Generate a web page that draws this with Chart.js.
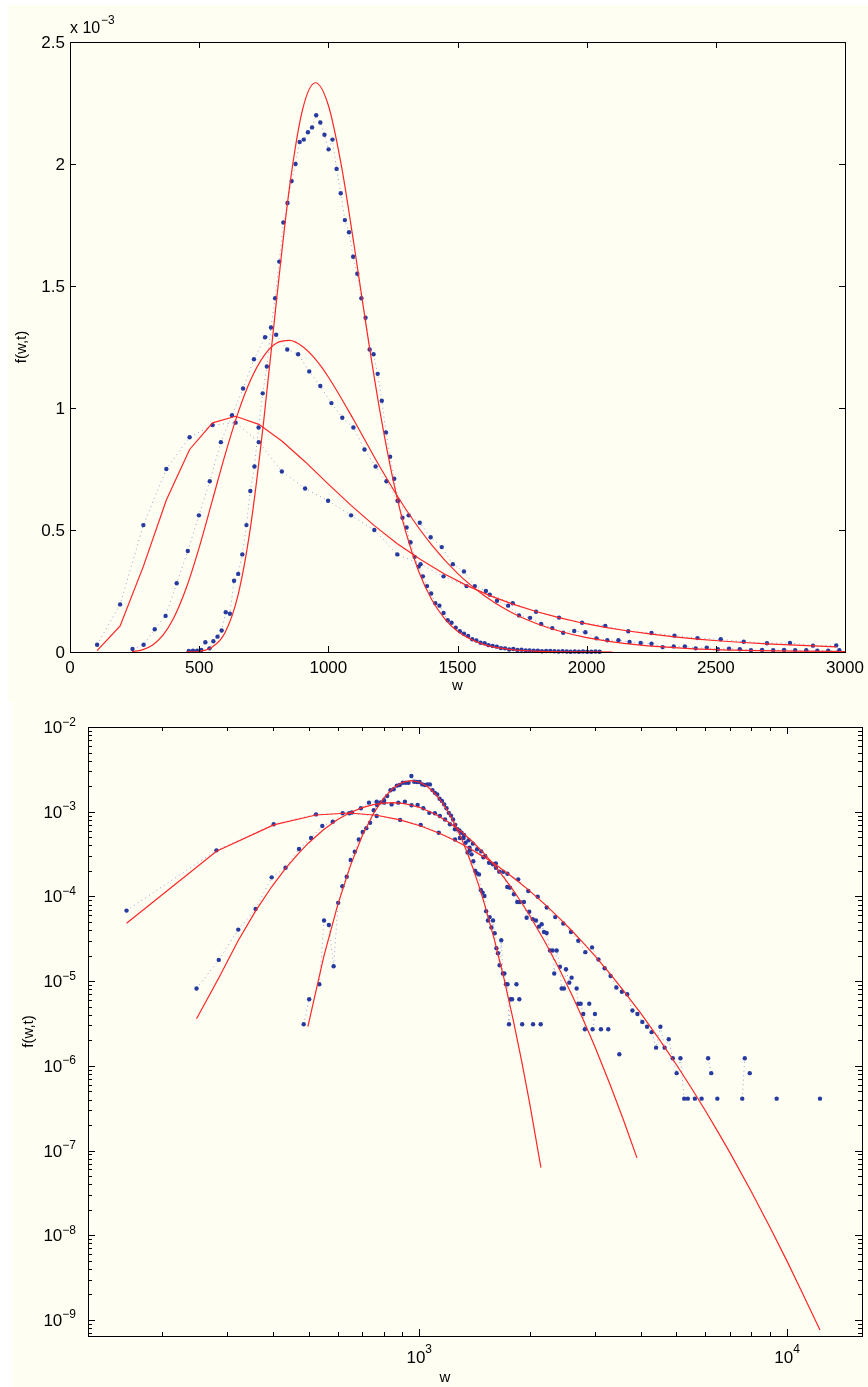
<!DOCTYPE html>
<html>
<head>
<meta charset="utf-8">
<script src="https://cdn.jsdelivr.net/npm/chart.js@4.4.1/dist/chart.umd.min.js"></script>
<style>
  html, body { margin: 0; padding: 0; background: #fff; }
  body { width: 868px; height: 1387px; position: relative; overflow: hidden; }
  .panel { position: absolute; background: #fffef2; }
  #topPanel { left: 8px; top: 5px; width: 860px; height: 697px; }
  #botPanel { left: 12px; top: 702px; width: 856px; height: 685px; }
  canvas { position: absolute; left: 0; }
  #linChart { top: 0; }
  #logChart { top: 700px; }
</style>
</head>
<body>
<div class="panel" id="topPanel"></div>
<div class="panel" id="botPanel"></div>
<canvas id="linChart" width="868" height="700"></canvas>
<canvas id="logChart" width="868" height="687"></canvas>
<script>
// ---- linear panel, f in units of 1e-3 ----
const linA_w = [460,476,492,508,524,540,555,571,587,603,619,635,651,667,683,698,714,730,746,762,778,794,810,826,842,858,873,889,905,921,937,953,969,985,1001,1016,1032,1048,1064,1080,1096,1112,1128,1144,1160,1175,1191,1207,1223,1239,1255,1271,1287,1303,1318,1334,1350,1366,1382,1398,1414,1430,1446,1462,1477,1493,1509,1525,1541,1557,1573,1589,1605,1620,1636,1652,1668,1684,1700,1716,1732,1748,1764,1779,1795,1811,1827,1843,1859,1875,1891,1907,1923,1938,1954,1970,1986,2002,2018,2034,2050];
const linA_f = [0.004,0.005,0.005,0.008,0.040,0.015,0.044,0.063,0.088,0.163,0.157,0.292,0.320,0.400,0.52,0.66,0.76,0.92,1.06,1.17,1.33,1.45,1.60,1.76,1.84,1.93,2.00,2.09,2.10,2.13,2.15,2.20,2.17,2.12,2.06,2.10,1.98,1.88,1.77,1.72,1.62,1.55,1.45,1.37,1.24,1.22,1.14,1.03,0.90,0.80,0.71,0.62,0.55,0.51,0.45,0.39,0.35,0.31,0.27,0.24,0.20,0.19,0.16,0.13,0.12,0.10,0.085,0.075,0.066,0.052,0.047,0.038,0.036,0.028,0.025,0.022,0.016,0.015,0.010,0.012,0.008,0.009,0.006,0.006,0.005,0.005,0.003,0.004,0.004,0.003,0.002,0.003,0.002,0.001,0.002,0.001,0.002,0.001,0.001,0.002,0.001];
const linA_fitW = [450,500,550,600,650,700,750,800,850,900,950,1000,1050,1100,1150,1200,1250,1300,1350,1400,1450,1500,1600,1700,1800,1900,2000,2100];
const linA_fit = [0.0003,0.0032,0.0195,0.079,0.231,0.521,0.948,1.447,1.907,2.222,2.333,2.241,1.996,1.665,1.312,0.985,0.709,0.491,0.330,0.215,0.137,0.085,0.031,0.011,0.0035,0.0011,0.0004,0.0001];

const linB_w = [242,285,328,370,413,456,499,541,584,627,670,712,755,798,841,883,926,969,1012,1054,1097,1140,1183,1225,1268,1311,1354,1396,1439,1482,1525,1567,1610,1653,1696,1738,1781,1824,1867,1909,1952,1995,2038,2080,2123,2166,2209,2251,2294,2337,2380,2422,2465,2508,2551,2593,2636,2679,2722,2764,2807,2850,2893,2935,2978];
const linB_f = [0.012,0.030,0.093,0.148,0.282,0.414,0.56,0.70,0.86,0.97,1.08,1.20,1.29,1.30,1.24,1.22,1.15,1.09,1.02,0.96,0.92,0.83,0.76,0.70,0.62,0.56,0.53,0.47,0.43,0.36,0.33,0.27,0.25,0.21,0.19,0.15,0.14,0.115,0.098,0.079,0.086,0.081,0.056,0.048,0.048,0.041,0.037,0.034,0.020,0.023,0.023,0.015,0.018,0.011,0.014,0.011,0.007,0.008,0.007,0.008,0.007,0.007,0.005,0.005,0.007];
const linB_fitW = [240,280,320,360,400,450,500,550,600,650,700,750,800,850,900,950,1000,1100,1200,1300,1400,1500,1600,1700,1800,1900,2000,2200,2400,2600,2800,3000];
const linB_fit = [0.002,0.009,0.029,0.069,0.136,0.262,0.428,0.617,0.807,0.979,1.117,1.213,1.266,1.277,1.252,1.200,1.127,0.948,0.758,0.585,0.439,0.322,0.234,0.167,0.119,0.084,0.059,0.029,0.014,0.007,0.0034,0.0017];

const linC_w = [105,194,284,373,463,552,641,731,820,910,999,1088,1178,1267,1357,1446,1535,1625,1714,1804,1893,1982,2072,2161,2251,2340,2429,2519,2608,2698,2787,2876,2966];
const linC_f = [0.03,0.195,0.52,0.75,0.88,0.93,0.94,0.86,0.74,0.67,0.62,0.56,0.50,0.40,0.36,0.31,0.27,0.235,0.20,0.165,0.141,0.120,0.107,0.085,0.078,0.067,0.057,0.052,0.042,0.036,0.037,0.026,0.027];
const linC_fit = [0.006,0.107,0.351,0.623,0.830,0.939,0.966,0.933,0.865,0.780,0.689,0.601,0.518,0.444,0.379,0.322,0.273,0.231,0.196,0.166,0.141,0.119,0.101,0.086,0.073,0.062,0.053,0.045,0.039,0.033,0.029,0.025,0.021];

const linXTicks = [0, 500, 1000, 1500, 2000, 2500, 3000];
const linYTicks = [0, 0.5, 1, 1.5, 2, 2.5];

// ---- log panel ----
const logA_w = [485,502,535,551,568,585,602,618,635,651,668,685,702,718,735,752,768,785,802,818,835,852,869,885,902,919,935,952,969,986,1002,1019,1036,1052,1069,1086,1103,1119,1136,1153,1169,1186,1203,1220,1236,1253,1270,1286,1303,1320,1337,1353,1370,1387,1403,1420,1437,1454,1470,1487,1504,1520,1537,1554,1571,1587,1604,1621,1637,1654,1671,1688,1704,1721,1738,1754,1771,1788,1838,1871,1905,2039,2139];
const logA_f = [3.1e-6,6.1e-6,9.2e-6,5.2e-5,4.6e-5,1.5e-5,8.4e-5,1.32e-4,1.71e-4,2.69e-4,3.37e-4,4.7e-4,5.75e-4,6.4e-4,7.4e-4,1.04e-3,1.2e-3,1.29e-3,1.37e-3,1.53e-3,1.79e-3,1.84e-3,2.03e-3,2.07e-3,2.2e-3,2.2e-3,2.2e-3,2.64e-3,2.26e-3,2.24e-3,2.24e-3,2.1e-3,2.07e-3,2.1e-3,2.1e-3,1.8e-3,1.67e-3,1.6e-3,1.42e-3,1.34e-3,1.22e-3,1.1e-3,9.7e-4,9.0e-4,8.1e-4,7.0e-4,6.2e-4,6.0e-4,5.65e-4,4.9e-4,4.3e-4,3.3e-4,3.76e-4,3.14e-4,2.6e-4,2.0e-4,1.87e-4,1.82e-4,1.19e-4,1.11e-4,1.01e-4,6.7e-5,5.2e-5,5.7e-5,4.3e-5,5.2e-5,3.67e-5,2.45e-5,2.13e-5,1.54e-5,3.04e-5,1.23e-5,1.23e-5,9.2e-6,9.2e-6,3.1e-6,6.1e-6,6.1e-6,9.2e-6,6.1e-6,3.1e-6,3.1e-6,3.1e-6];
const logA_fitW = [498,550,600,650,700,750,800,850,900,950,1000,1050,1100,1150,1200,1250,1300,1350,1400,1450,1500,1600,1700,1800,1900,2000,2142];
const logA_fit = [2.9e-6,1.95e-5,7.89e-5,2.31e-4,5.21e-4,9.48e-4,1.447e-3,1.907e-3,2.222e-3,2.333e-3,2.241e-3,1.996e-3,1.665e-3,1.312e-3,9.85e-4,7.09e-4,4.91e-4,3.3e-4,2.15e-4,1.37e-4,8.5e-5,3.11e-5,1.07e-5,3.52e-6,1.12e-6,3.46e-7,6.3e-8];

const logB_w = [248,285,322,359,397,433,471,508,545,582,619,656,694,730,766,803,841,877,914,953,990,1026,1065,1103,1138,1175,1212,1250,1290,1324,1362,1399,1436,1474,1511,1548,1585,1616,1650,1692,1735,1765,1809,1847,1878,1926,1959,1991,2034,2077,2115,2152,2183,2220,2267,2305,2328,2364,2413,2439,2474,2506,2558,2596,2679,2706,2747,2792,2821,2899,2960,3004,3119,3265,3500];
const logB_f = [8.2e-6,1.78e-5,4.06e-5,7.1e-5,1.68e-4,2.18e-4,3.63e-4,4.9e-4,6.8e-4,7.6e-4,9.6e-4,9.8e-4,1.1e-3,1.28e-3,1.31e-3,1.28e-3,1.22e-3,1.28e-3,1.31e-3,1.19e-3,1.2e-3,1.1e-3,9.7e-4,9.6e-4,8.9e-4,8.1e-4,7.1e-4,6.2e-4,4.9e-4,5.3e-4,4.6e-4,4.2e-4,3.6e-4,3.4e-4,3.0e-4,2.5e-4,2.4e-4,2.18e-4,1.96e-4,1.95e-4,1.29e-4,1.27e-4,1.06e-4,8.6e-5,8.6e-5,8.6e-5,5.6e-5,6.6e-5,5.4e-5,5.2e-5,4.4e-5,4.7e-5,3.8e-5,3.7e-5,2.3e-5,2.3e-5,1.23e-5,2.3e-5,1.48e-5,8.2e-6,8.2e-6,1.38e-5,9.6e-6,1.1e-5,8.2e-6,5.4e-6,5.4e-6,4.1e-6,2.7e-6,5.4e-6,2.7e-6,4.1e-6,2.7e-6,2.7e-6,1.37e-6];
const logB_fitW = [248,285,322,359,397,433,471,500,550,600,650,700,750,800,850,900,950,1000,1100,1200,1300,1400,1500,1600,1700,1800,1900,2000,2200,2400,2600,2800,3000,3300,3600,3908];
const logB_fit = [3.6e-6,1.09e-5,3.02e-5,6.74e-5,1.3e-4,2.14e-4,3.27e-4,4.28e-4,6.17e-4,8.07e-4,9.79e-4,1.117e-3,1.213e-3,1.266e-3,1.277e-3,1.252e-3,1.2e-3,1.127e-3,9.48e-4,7.58e-4,5.85e-4,4.39e-4,3.22e-4,2.34e-4,1.67e-4,1.19e-4,8.37e-5,5.88e-5,2.88e-5,1.41e-5,6.9e-6,3.41e-6,1.7e-6,6.07e-7,2.23e-7,8.2e-8];

const logC_w = [160,281,402,524,645,766,887,1009,1130,1251,1373,1494,1615,1737,1858,1979,2100,2222,2343,2464,2585,2707,2828,2950,3071,3192,3313,3435,3556,3677,3799,3920,4041,4163,4284,4405,4526,4647,4768,4889,5010,5131,5253,5374,5616,5858,6101,6222,6464,7555,7676,7918,9372,12290];
const logC_f = [6.8e-5,3.5e-4,7.1e-4,9.3e-4,9.6e-4,8.9e-4,8.0e-4,7.0e-4,5.65e-4,4.7e-4,3.5e-4,2.9e-4,2.45e-4,1.85e-4,1.59e-4,1.16e-4,9.9e-5,7.4e-5,5.7e-5,4.8e-5,3.8e-5,3.0e-5,2.2e-5,2.5e-5,1.8e-5,1.42e-5,1.15e-5,8.4e-6,7.5e-6,7.0e-6,4.5e-6,4.1e-6,3.3e-6,2.9e-6,2.5e-6,1.64e-6,2.9e-6,1.64e-6,2.06e-6,1.23e-6,8.2e-7,1.23e-6,4.1e-7,4.1e-7,4.1e-7,4.1e-7,1.23e-6,8.2e-7,4.1e-7,4.1e-7,1.23e-6,8.2e-7,4.1e-7,4.1e-7];
const logC_fitW = [160,281,402,524,645,766,887,1009,1130,1251,1373,1494,1615,1737,1858,2000,2200,2400,2600,2800,3000,3300,3600,4000,4500,5000,5500,6000,6500,7000,8000,9000,10000,11000,12290];
const logC_fit = [4.82e-5,3.41e-4,7.0e-4,9.15e-4,9.65e-4,9.09e-4,8.02e-4,6.79e-4,5.61e-4,4.57e-4,3.68e-4,2.95e-4,2.36e-4,1.88e-4,1.5e-4,1.154e-4,8.0e-5,5.59e-5,3.93e-5,2.79e-5,2.0e-5,1.224e-5,7.64e-6,4.18e-6,2.04e-6,1.037e-6,5.44e-7,2.95e-7,1.64e-7,9.4e-8,3.27e-8,1.23e-8,4.95e-9,2.1e-9,7.6e-10];

// bin widths of the log-panel histograms; empty bins break the dotted line
const logBinA = 16.7, logBinB = 37.3, logBinC = 121.3;

const logXRange = [125.7, 15990];
const logYRange = [6.47e-10, 1e-2];
const logXDecades = [1000, 10000];
const logYExponents = [-9, -8, -7, -6, -5, -4, -3, -2];
const minorSteps = [2, 3, 4, 5, 6, 7, 8, 9];

const FONT = '"Liberation Sans", Arial, Helvetica, sans-serif';
const dotFill = 'rgb(38,58,160)';
const dotLine = 'rgba(80,100,200,0.6)';
const fitRed = 'rgb(255,38,38)';

const pts = (ws, fs) => ws.map((w, i) => ({ x: w, y: fs[i] }));

function observed(ws, fs, bin) {
  const ds = {
    data: pts(ws, fs), showLine: true,
    borderColor: dotLine, borderWidth: 1, borderDash: [1, 3.5],
    pointRadius: 2.2, pointBackgroundColor: dotFill, pointBorderWidth: 0,
    order: 2, clip: false
  };
  if (bin) {
    ds.segment = {
      borderColor: c => (c.p1.parsed.x - c.p0.parsed.x > 1.5 * bin ? 'rgba(0,0,0,0)' : undefined)
    };
  }
  return ds;
}

function fitted(ws, fs, smooth) {
  return {
    data: pts(ws, fs), showLine: true,
    borderColor: fitRed, borderWidth: 1.2, pointRadius: 0,
    cubicInterpolationMode: smooth ? 'monotone' : 'default', tension: 0,
    order: 1, clip: false
  };
}

// box, inward ticks on all four sides, and labels
function frame(xTicks, yTicks, drawLabels) {
  return {
    id: 'frame',
    afterDraw(chart) {
      const { ctx, chartArea: a } = chart;
      const sx = chart.scales.x, sy = chart.scales.y;
      ctx.save();
      ctx.strokeStyle = '#000';
      ctx.lineWidth = 1;
      ctx.beginPath();
      xTicks.forEach(t => {
        const px = Math.round(sx.getPixelForValue(t.v)) + 0.5;
        ctx.moveTo(px, a.bottom); ctx.lineTo(px, a.bottom - t.len);
        ctx.moveTo(px, a.top); ctx.lineTo(px, a.top + t.len);
      });
      yTicks.forEach(t => {
        const py = Math.round(sy.getPixelForValue(t.v)) + 0.5;
        ctx.moveTo(a.left, py); ctx.lineTo(a.left + t.len, py);
        ctx.moveTo(a.right, py); ctx.lineTo(a.right - t.len, py);
      });
      ctx.stroke();
      ctx.strokeRect(Math.round(a.left) + 0.5, Math.round(a.top) + 0.5,
        Math.round(a.right - a.left), Math.round(a.bottom - a.top));
      ctx.fillStyle = '#000';
      drawLabels(ctx, a, sx, sy);
      ctx.restore();
    }
  };
}

function vertical(ctx, text, x, y) {
  ctx.save();
  ctx.translate(x, y);
  ctx.rotate(-Math.PI / 2);
  ctx.textAlign = 'center';
  ctx.textBaseline = 'middle';
  ctx.fillText(text, 0, 0);
  ctx.restore();
}

const baseOpts = (padding, xScale, yScale) => ({
  responsive: false, animation: false, devicePixelRatio: 1, events: [],
  layout: { padding },
  plugins: { legend: { display: false }, tooltip: { enabled: false } },
  scales: { x: Object.assign({ display: false }, xScale), y: Object.assign({ display: false }, yScale) }
});

// linear panel
new Chart(document.getElementById('linChart'), {
  type: 'scatter',
  data: {
    datasets: [
      observed(linA_w, linA_f), observed(linB_w, linB_f), observed(linC_w, linC_f),
      fitted(linA_fitW, linA_fit, true), fitted(linB_fitW, linB_fit, true), fitted(linC_w, linC_fit, false)
    ]
  },
  options: baseOpts({ left: 70, top: 42, right: 23, bottom: 48 },
    { type: 'linear', min: 0, max: 3000 }, { type: 'linear', min: 0, max: 2.5 }),
  plugins: [frame(
    linXTicks.map(v => ({ v, len: 6 })),
    linYTicks.map(v => ({ v, len: 6 })),
    (ctx, a, sx, sy) => {
      ctx.font = '17px ' + FONT;
      ctx.textAlign = 'center';
      ctx.textBaseline = 'alphabetic';
      linXTicks.forEach(v => ctx.fillText(String(v), sx.getPixelForValue(v), a.bottom + 21));
      ctx.textAlign = 'right';
      linYTicks.forEach(v => ctx.fillText(String(v), a.left - 5, sy.getPixelForValue(v) + 6));
      ctx.textAlign = 'left';
      ctx.font = '16px ' + FONT;
      ctx.fillText('x 10', a.left, a.top - 9);
      ctx.font = '12px ' + FONT;
      ctx.fillText('\u22123', a.left + 31, a.top - 18);
      ctx.font = '15px ' + FONT;
      ctx.textAlign = 'center';
      ctx.fillText('w', (a.left + a.right) / 2, a.bottom + 38);
      vertical(ctx, 'f(w,t)', 22, (a.top + a.bottom) / 2);
    }
  )]
});

// log-log panel
const logXTicks = [];
[100, 1000, 10000].forEach(b => {
  minorSteps.forEach(m => {
    const v = m * b;
    if (v > logXRange[0] && v < logXRange[1]) logXTicks.push({ v, len: 4 });
  });
});
logXDecades.forEach(v => logXTicks.push({ v, len: 7 }));

const logYTicks = [];
for (let e = -10; e <= -3; e++) {
  minorSteps.forEach(m => {
    const v = m * Math.pow(10, e);
    if (v > logYRange[0] && v < logYRange[1]) logYTicks.push({ v, len: 4 });
  });
}
logYExponents.forEach(e => logYTicks.push({ v: Math.pow(10, e), len: 7 }));

new Chart(document.getElementById('logChart'), {
  type: 'scatter',
  data: {
    datasets: [
      observed(logA_w, logA_f, logBinA), observed(logB_w, logB_f, logBinB), observed(logC_w, logC_f, logBinC),
      fitted(logA_fitW, logA_fit, false), fitted(logB_fitW, logB_fit, false), fitted(logC_fitW, logC_fit, false)
    ]
  },
  options: baseOpts({ left: 88, top: 27, right: 6, bottom: 51 },
    { type: 'logarithmic', min: logXRange[0], max: logXRange[1] },
    { type: 'logarithmic', min: logYRange[0], max: logYRange[1] }),
  plugins: [frame(logXTicks, logYTicks, (ctx, a, sx, sy) => {
    ctx.textBaseline = 'alphabetic';
    logYExponents.forEach(e => {
      const py = sy.getPixelForValue(Math.pow(10, e));
      const sup = '\u2212' + Math.abs(e);
      ctx.font = '12px ' + FONT;
      const ws = ctx.measureText(sup).width;
      ctx.textAlign = 'left';
      ctx.fillText(sup, a.left - 12 - ws, py - 1.5);
      ctx.font = '17px ' + FONT;
      ctx.textAlign = 'right';
      ctx.fillText('10', a.left - 12 - ws, py + 6);
    });
    logXDecades.forEach(v => {
      const px = sx.getPixelForValue(v);
      const sup = String(Math.round(Math.log10(v)));
      ctx.font = '17px ' + FONT;
      const w10 = ctx.measureText('10').width;
      ctx.font = '12px ' + FONT;
      const ws = ctx.measureText(sup).width;
      const x0 = px - (w10 + ws) / 2;
      ctx.textAlign = 'left';
      ctx.fillText(sup, x0 + w10, a.bottom + 17);
      ctx.font = '17px ' + FONT;
      ctx.fillText('10', x0, a.bottom + 27);
    });
    ctx.font = '15px ' + FONT;
    ctx.textAlign = 'center';
    ctx.fillText('w', 445, a.bottom + 46);
    vertical(ctx, 'f(w,t)', 29, (a.top + a.bottom) / 2);
  })]
});
</script>
</body>
</html>
